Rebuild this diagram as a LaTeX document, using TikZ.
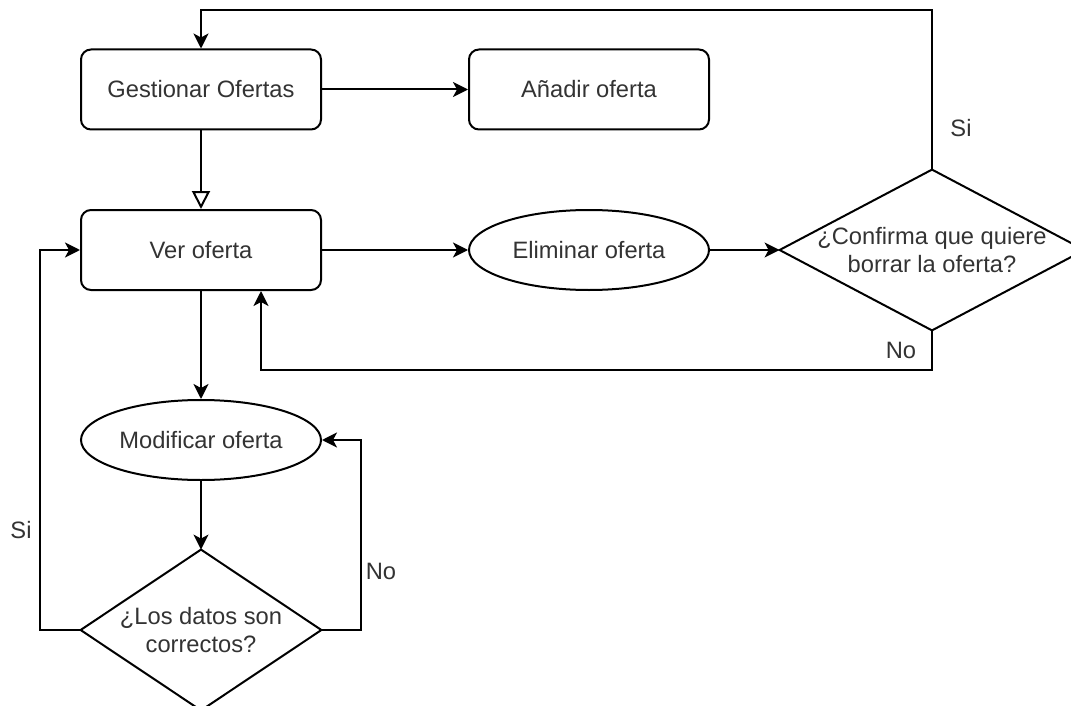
\documentclass[tikz,border=0pt]{standalone}
\usepackage{fontspec}
\setmainfont{Liberation Sans}
\usetikzlibrary{arrows.meta,shapes.geometric}
\definecolor{txt}{HTML}{333333}
\begin{document}
\begin{tikzpicture}[x=0.5pt,y=-0.5pt,
  lab/.style={font=\fontsize{11.85}{14}\selectfont, text=txt},
  box/.style={lab, draw, line width=1pt, rounded corners=5pt, minimum width=120pt, minimum height=40pt, inner sep=0pt},
  oval/.style={lab, draw, ellipse, line width=1pt, minimum width=120pt, minimum height=40pt, inner sep=0pt},
  dec/.style={lab, minimum height=80pt, inner sep=0pt, align=center},
  dshape/.style={draw, line width=1pt, line join=miter},
  conn/.style={line width=1pt, -{Stealth[length=7.5pt,width=7.5pt,inset=2pt]}},
  inh/.style={line width=1pt, -{Triangle[open,length=9pt,width=9pt]}}]
\useasboundingbox (0,0) rectangle (1071,706);
\clip (0,0) rectangle (1071,706);
\fill[white] (0,0) rectangle (1071,706);

\node[box] (gest) at (201,89.5) {Gestionar Ofertas};
\node[box] (anadir) at (589,89.5) {Añadir oferta};
\node[box] (ver) at (201,250) {Ver oferta};
\node[oval] (elim) at (589,250) {Eliminar oferta};
\node[oval] (mod) at (201,440) {Modificar oferta};
\node[dec, minimum width=152pt] (conf) at (932,250) {¿Confirma que quiere\\borrar la oferta?};
\draw[dshape] (conf.north) -- (conf.east) -- (conf.south) -- (conf.west) -- cycle;
\node[dec, minimum width=120pt] (dat) at (201,630) {¿Los datos son\\correctos?};
\draw[dshape] (dat.north) -- (dat.east) -- (dat.south) -- (dat.west) -- cycle;

\draw[conn] (gest) -- (anadir);
\draw[inh] (gest) -- (ver);
\draw[conn] (ver) -- (elim);
\draw[conn] (elim) -- (conf.west);
\draw[conn] (conf.north) -- (932,10) -| (gest.north);
\draw[conn] (conf.south) -- (932,370) -| ([xshift=30pt]ver.south);
\draw[conn] (ver) -- (mod);
\draw[conn] (mod) -- (dat.north);
\draw[conn] (dat.west) -- (40,630) |- (ver.west);
\draw[conn] (dat.east) -- (361,630) |- (mod.east);

\node[lab] (si1) at (961,128) {Si};
\node[lab] (no1) at (901,350) {No};
\node[lab] (si2) at (21,530) {Si};
\node[lab] (no2) at (381,571) {No};
\end{tikzpicture}
\end{document}
